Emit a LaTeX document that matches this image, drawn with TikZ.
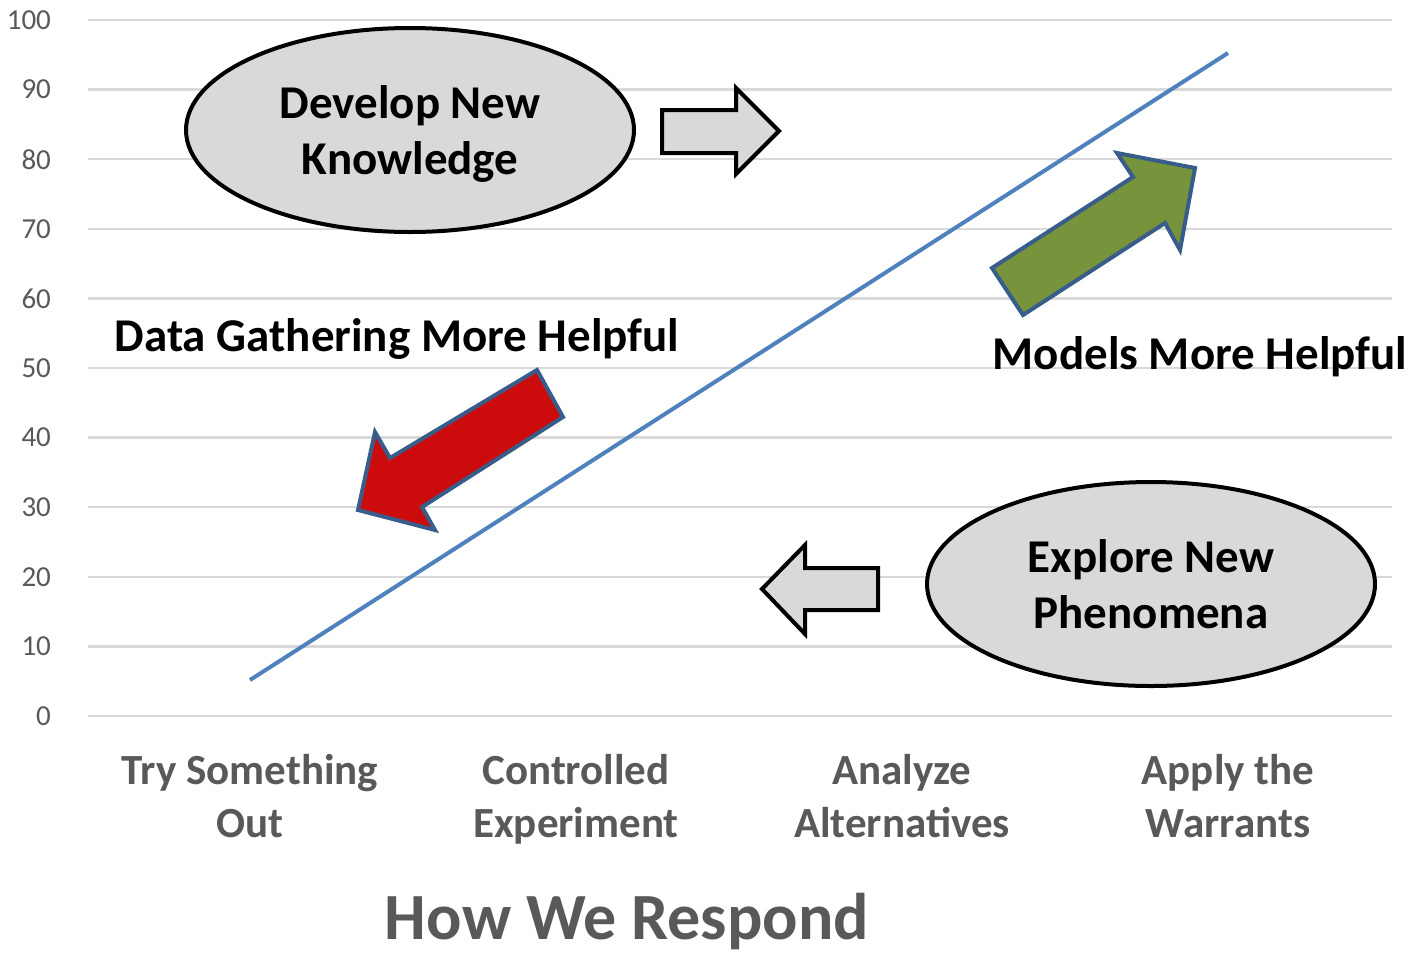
\documentclass[tikz,border=0pt]{standalone}
\usepackage{fontspec}
\setmainfont{Carlito}
\usetikzlibrary{positioning}
\usetikzlibrary{shapes.geometric}
\definecolor{gridgray}{HTML}{D9D9D9}
\definecolor{labelgray}{HTML}{595959}
\definecolor{trendblue}{HTML}{4F81BD}
\definecolor{arrowred}{HTML}{CC0C0C}
\definecolor{olivegreen}{HTML}{77933C}
\definecolor{edgeblue}{HTML}{385D8A}
\definecolor{bubblegray}{HTML}{D9D9D9}
\tikzset {
  % chart frame
  gridline/.style={gridgray, line width=1.2pt},
  ticklabel/.style={anchor=east, text=labelgray, font=\fontsize{14.5}{16}\selectfont},
  category/.style={text=labelgray, align=center, font=\fontsize{21.5}{26.5}\selectfont\bfseries},
  trend/.style={trendblue, line width=2pt},
  % grey ellipses and hollow arrows
  bubble/.style={draw, ellipse, fill=bubblegray, line width=2pt, minimum width=224pt,
    minimum height=102pt, inner sep=0pt, align=center, text depth=3.4pt,
    font=\fontsize{23.5}{28}\selectfont\bfseries},
  hollow/.style={draw=black, fill=bubblegray, line width=2pt, line join=miter},
  % the two fat arrows
  bigarrow/.style={draw=edgeblue, line width=2pt, line join=miter},
  callout/.style={font=\fontsize{23.5}{28}\selectfont\bfseries},
}

\begin{document}
\begin{tikzpicture}[x=0.5pt, y=-0.5pt]
  \useasboundingbox (0,0) rectangle (1422,954);

  % horizontal grid and the value axis
  \foreach \v in {0,10,...,100} {
    \node[ticklabel] (tick\v) at (58,{716-6.96*\v}) {\v};
    \draw[gridline] (88,{716-6.96*\v}) -- (1392,{716-6.96*\v});
  }

  % trend line
  \coordinate (low) at (250,680);
  \coordinate (high) at (1228,53);
  \draw[trend] (low) -- (high);

  % categories
  \node[category] (try) at (250,800) {\strut Try Something\\\strut Out};
  \node[category] (controlled) at (576,800) {\strut Controlled\\\strut Experiment};
  \node[category] (analyze) at (902,800) {\strut Analyze\\\strut Alternatives};
  \node[category] (apply) at (1228,800) {\strut Apply the\\\strut Warrants};
  \node[text=labelgray, font=\fontsize{33}{38}\selectfont\bfseries] (title) at (627,922) {How We Respond};

  % ellipses
  \node[bubble] (develop) at (410,130) {\strut Develop New\\\strut Knowledge};
  \node[bubble] (explore) at (1151,584) {\strut Explore New\\\strut Phenomena};

  \draw[hollow] (662,110) -- (736,110) -- (736,88) -- (779,131) -- (736,174)
    -- (736,153) -- (662,153) -- cycle;
  \draw[hollow] (878,568) -- (805,568) -- (805,545) -- (762,589) -- (805,634)
    -- (805,610) -- (878,610) -- cycle;

  % fat arrows
  \draw[bigarrow, fill=arrowred] (537,370) -- (563,417) -- (422,507) -- (435,530)
    -- (358,510) -- (375,432) -- (390,458) -- cycle;
  \draw[bigarrow, fill=olivegreen] (992,268) -- (1133,177) -- (1117,153) -- (1195,168)
    -- (1180,250) -- (1165,223) -- (1023,315) -- cycle;

  \node[callout] (datahelp) at (397,339) {Data Gathering More Helpful};
  \node[callout] (modelhelp) at (1200,357) {Models More Helpful};
\end{tikzpicture}
\end{document}
